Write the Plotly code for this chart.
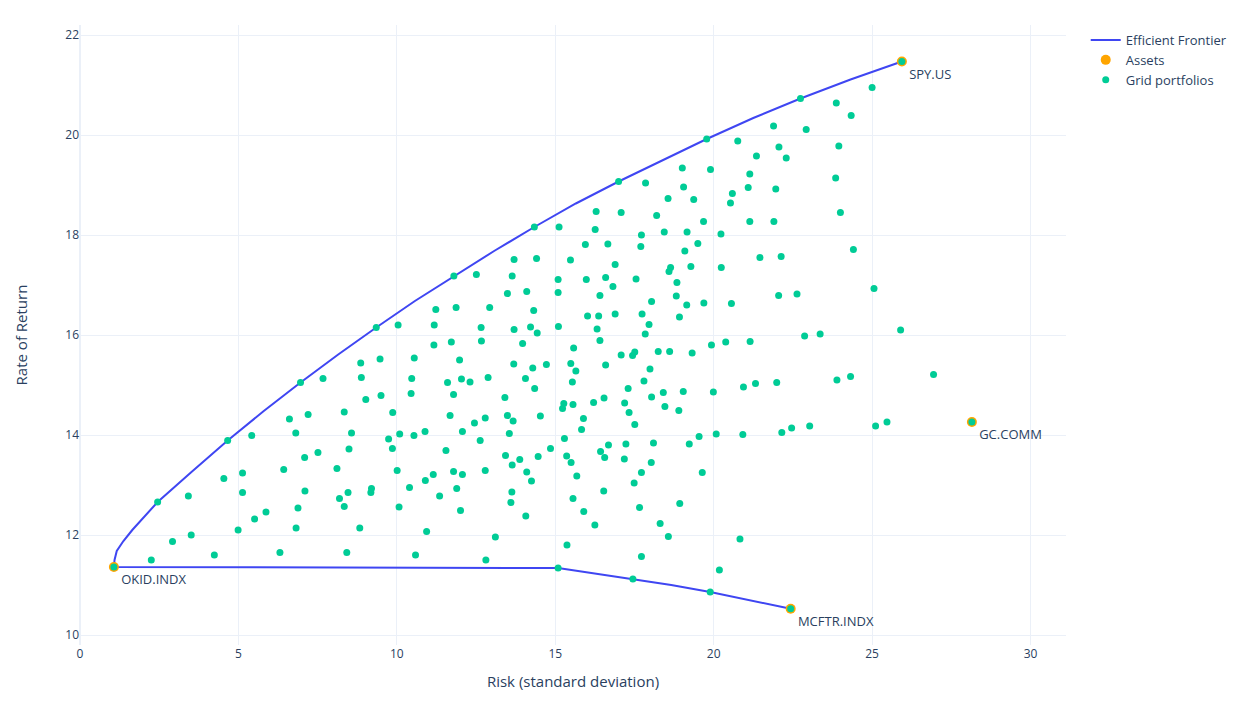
import plotly.graph_objects as go

# Efficient frontier (risk, return)
frontier_risk = [22.43, 21.15, 19.89, 18.66, 17.45, 16.25, 15.09, 1.07, 1.09, 1.16, 1.37, 1.65, 1.98,
                 2.45, 3.5, 4.66, 5.8, 6.96, 8.15, 9.35, 10.57, 11.8, 13.07, 14.34, 15.65, 17.0,
                 18.38, 19.78, 21.25, 22.74, 24.32, 25.94]
frontier_ret = [10.525, 10.7, 10.86, 11.0, 11.12, 11.24, 11.34, 11.36, 11.5, 11.68, 11.88, 12.1, 12.33,
                12.66, 13.25, 13.89, 14.48, 15.05, 15.61, 16.15, 16.68, 17.18, 17.68, 18.16, 18.63, 19.07,
                19.5, 19.92, 20.34, 20.73, 21.11, 21.47]

# Assets
asset_names = ["SPY.US", "GC.COMM", "OKID.INDX", "MCFTR.INDX"]
asset_risk = [25.94, 28.15, 1.07, 22.43]
asset_ret = [21.47, 14.26, 11.36, 10.525]

# Grid portfolios
grid_risk = [
    25.94, 25.0, 23.87, 24.34, 23.95, 23.85, 24.0, 22.74, 21.89, 22.92, 19.78, 20.76, 22.06, 22.29,
    21.35, 19.01, 19.9, 21.14, 21.09, 21.96, 17.0, 17.85, 19.05, 20.59, 20.53, 19.37, 18.56, 18.2,
    16.29, 17.08, 16.26, 17.72, 18.44, 19.16, 19.68, 20.23, 21.14, 21.9, 14.34, 15.12,
    15.95, 16.66, 17.7, 19.5, 19.09, 21.46, 22.13, 16.89, 18.64, 18.59, 19.28, 20.24, 15.98, 16.59,
    17.55, 16.82, 18.84, 16.41, 18.04, 18.82, 19.15, 19.69, 20.56, 22.05, 22.63, 16.02, 16.37, 16.89,
    17.74, 17.96, 18.92, 16.32, 17.84, 16.41, 19.93, 20.38, 21.15, 22.87, 23.36, 17.08, 17.44, 17.51,
    18.25, 18.61, 19.32, 16.59, 17.99, 17.8, 17.3, 18.41, 19.04, 19.99, 20.94, 21.32, 21.99, 16.54,
    16.21, 17.19, 18.04, 17.33, 18.46, 18.9, 15.89, 17.51, 19.54, 20.08, 20.92, 22.15, 22.46, 23.03,
    24.41, 25.06, 25.9, 26.94, 23.89, 24.32, 25.11, 25.47, 28.15,
    4.66, 5.42, 6.61, 6.81, 7.2, 6.96, 7.67,
    9.35, 10.04, 11.8, 12.51, 13.7, 14.41, 15.48, 13.64, 15.09, 15.09, 13.49, 14.1, 11.23, 11.87,
    12.93, 14.32, 11.18, 12.66, 13.7, 14.22, 14.43, 15.1, 11.17, 11.72, 12.67, 13.97, 15.58, 8.86,
    9.47, 10.55, 11.98, 13.69, 14.29, 14.72, 15.49, 15.65, 8.88, 10.47, 11.6, 12.04, 12.31, 12.88,
    14.06, 14.35, 15.54, 9.02, 9.5, 10.45, 11.79, 13.41, 8.34, 9.87, 11.68, 12.45, 12.79, 13.49,
    13.67, 14.53, 15.27, 15.23, 15.56, 8.57, 9.74, 10.09, 10.54, 10.89, 12.07, 12.63, 13.55, 15.29,
    15.83,
    1.07, 2.45, 3.42, 4.54, 5.13, 6.43, 7.09, 7.51, 5.13, 7.1, 6.88, 5.87, 5.51, 6.82, 4.99, 3.51,
    2.92, 2.25, 4.24, 6.31,
    8.49, 9.86, 11.55, 13.43, 14.85, 15.36, 15.5, 15.68, 8.11, 10.01, 11.79, 12.07, 12.79, 13.64,
    13.88, 14.1, 14.25, 14.46, 11.15, 10.9, 10.4, 11.89, 11.35, 12.01, 8.46, 8.19, 8.34, 9.2, 9.18,
    10.07, 13.63, 13.6, 14.07, 8.83, 10.94, 13.11, 8.42, 10.59, 12.81, 15.37, 15.56, 15.09,
    16.43, 16.68, 17.23, 18.1, 19.23, 16.56, 17.18, 18.03, 17.72, 19.64, 17.49, 16.53, 17.66, 18.93,
    15.9, 16.25, 18.31, 18.57, 20.83, 17.72, 20.18, 17.45, 19.89, 22.43,
]
grid_ret = [
    21.47, 20.95, 20.64, 20.39, 19.78, 19.14, 18.45, 20.73, 20.18, 20.11, 19.92, 19.88, 19.76, 19.54,
    19.58, 19.34, 19.31, 19.22, 18.95, 18.92, 19.07, 19.04, 18.96, 18.83, 18.64, 18.71, 18.73, 18.39,
    18.47, 18.45, 18.11, 18.0, 18.06, 18.06, 18.27, 18.02, 18.27, 18.27, 18.16, 18.16,
    17.81, 17.82, 17.77, 17.83, 17.68, 17.55, 17.57, 17.41, 17.35, 17.27, 17.37, 17.35, 17.11, 17.15,
    17.12, 16.97, 17.05, 16.79, 16.67, 16.78, 16.6, 16.64, 16.63, 16.79, 16.82, 16.38, 16.38, 16.42,
    16.42, 16.21, 16.36, 16.12, 16.02, 15.89, 15.8, 15.86, 15.87, 15.98, 16.02, 15.6, 15.59, 15.66,
    15.67, 15.67, 15.64, 15.4, 15.32, 15.08, 14.93, 14.85, 14.87, 14.86, 14.96, 15.03, 15.05, 14.74,
    14.65, 14.64, 14.76, 14.45, 14.57, 14.49, 14.33, 14.21, 13.97, 14.02, 14.01, 14.05, 14.14, 14.18,
    17.71, 16.93, 16.1, 15.21, 15.1, 15.17, 14.18, 14.26, 14.26,
    13.89, 13.99, 14.32, 14.04, 14.41, 15.05, 15.13,
    16.15, 16.2, 17.18, 17.21, 17.51, 17.53, 17.5, 17.18, 17.11, 16.85, 16.83, 16.87, 16.51, 16.55,
    16.55, 16.49, 16.2, 16.15, 16.11, 16.16, 16.04, 16.17, 15.8, 15.86, 15.88, 15.83, 15.74, 15.44,
    15.52, 15.54, 15.5, 15.42, 15.34, 15.41, 15.43, 15.28, 15.15, 15.13, 15.05, 15.12, 15.06, 15.15,
    15.13, 14.93, 15.06, 14.71, 14.79, 14.83, 14.81, 14.75, 14.46, 14.45, 14.39, 14.24, 14.34, 14.39,
    14.28, 14.38, 14.63, 14.53, 14.61, 14.04, 13.92, 14.02, 13.99, 14.07, 14.07, 13.89, 14.03, 13.93,
    14.11,
    11.36, 12.66, 12.78, 13.13, 13.24, 13.31, 13.55, 13.65, 12.85, 12.88, 12.54, 12.46, 12.32, 12.14,
    12.1, 12.0, 11.87, 11.5, 11.6, 11.65,
    13.72, 13.73, 13.69, 13.59, 13.73, 13.58, 13.45, 13.18, 13.33, 13.29, 13.27, 13.21, 13.29, 13.4,
    13.51, 13.26, 13.08, 13.57, 13.21, 13.09, 12.95, 12.93, 12.78, 12.49, 12.85, 12.73, 12.57, 12.93,
    12.85, 12.56, 12.86, 12.65, 12.38, 12.14, 12.07, 11.96, 11.65, 11.6, 11.5, 11.8, 12.73, 11.34,
    13.67, 13.8, 13.82, 13.84, 13.82, 13.55, 13.52, 13.45, 13.25, 13.25, 13.04, 12.88, 12.55, 12.63,
    12.47, 12.2, 12.23, 11.97, 11.92, 11.57, 11.3, 11.12, 10.86, 10.525,
]

fig = go.Figure()
fig.add_trace(go.Scatter(
    x=frontier_risk, y=frontier_ret, mode="lines", name="Efficient Frontier",
    line=dict(color="#3f46f2", width=2),
))
fig.add_trace(go.Scatter(
    x=asset_risk, y=asset_ret, mode="markers+text", name="Assets",
    text=asset_names, textposition="bottom right",
    textfont=dict(size=13, color="#2a3f5f"),
    marker=dict(color="orange", size=10),
))
fig.add_trace(go.Scatter(
    x=grid_risk, y=grid_ret, mode="markers", name="Grid portfolios",
    marker=dict(color="#00cc96", size=7),
))

fig.update_layout(
    template="plotly_white",
    width=1233, height=717,
    margin=dict(l=80, r=167, t=25, b=72, autoexpand=False),
    xaxis=dict(title=dict(text="Risk (standard deviation)", font=dict(size=15)),
               range=[0, 31.12], dtick=5, tickfont=dict(size=12)),
    yaxis=dict(title=dict(text="Rate of Return", standoff=34, font=dict(size=15)),
               range=[9.8, 22.2], dtick=2, tickfont=dict(size=12)),
    legend=dict(x=1.02, y=1, font=dict(size=13), tracegroupgap=0),
    font=dict(family="Open Sans"),
)

fig.write_html("out.html")
